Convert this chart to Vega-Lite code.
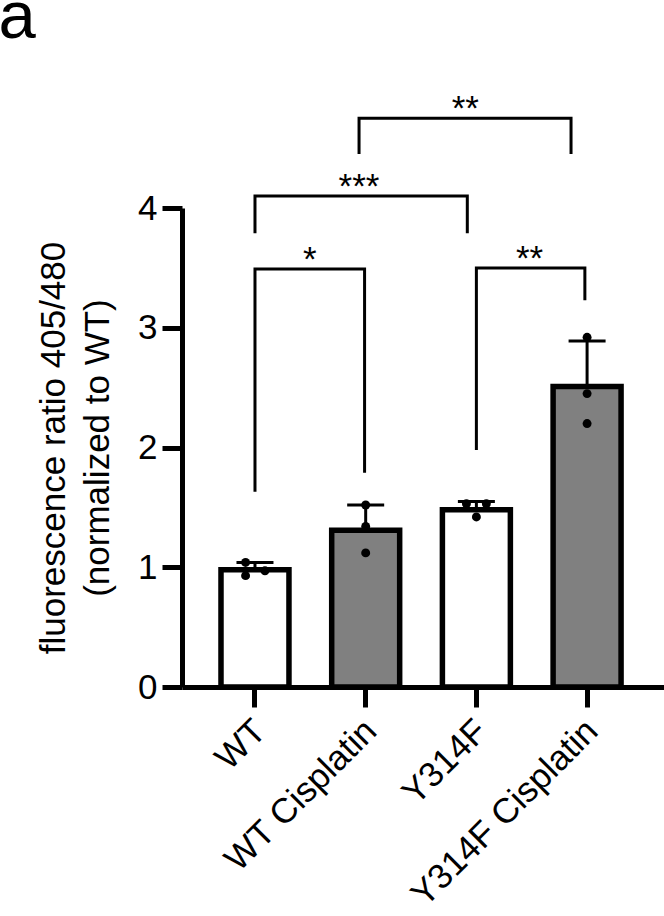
{
  "$schema": "https://vega.github.io/schema/vega-lite/v6.json",
  "autosize": {"type": "none"},
  "padding": {"left": 182, "top": 208, "right": 0, "bottom": 229},
  "width": 482,
  "height": 479,
  "background": "white",
  "title": {"text": "a", "fontSize": 67, "font": "Liberation Sans", "fontWeight": "normal", "anchor": "start", "frame": "bounds", "color": "black", "offset": 40, "dx": -38},
  "datasets": {
    "summary": [
      {"group": "WT", "treatment": "none", "mean": 0.98, "upper": 1.04},
      {"group": "WT Cisplatin", "treatment": "cisplatin", "mean": 1.31, "upper": 1.52},
      {"group": "Y314F", "treatment": "none", "mean": 1.48, "upper": 1.55},
      {"group": "Y314F Cisplatin", "treatment": "cisplatin", "mean": 2.51, "upper": 2.89}
    ],
    "points": [
      {"group": "WT", "pos": -0.085, "value": 1.04},
      {"group": "WT", "pos": -0.085, "value": 0.93},
      {"group": "WT", "pos": 0.09, "value": 0.97},
      {"group": "WT Cisplatin", "pos": 1.0, "value": 1.52},
      {"group": "WT Cisplatin", "pos": 1.0, "value": 1.34},
      {"group": "WT Cisplatin", "pos": 1.0, "value": 1.12},
      {"group": "Y314F", "pos": 1.91, "value": 1.53},
      {"group": "Y314F", "pos": 2.09, "value": 1.53},
      {"group": "Y314F", "pos": 2.0, "value": 1.42},
      {"group": "Y314F Cisplatin", "pos": 3.0, "value": 2.92},
      {"group": "Y314F Cisplatin", "pos": 3.0, "value": 2.45},
      {"group": "Y314F Cisplatin", "pos": 3.0, "value": 2.2}
    ],
    "brackets": [
      {"bracket": "WT vs WT Cisplatin", "seq": 1, "pos": 0.0, "y": 1.63},
      {"bracket": "WT vs WT Cisplatin", "seq": 2, "pos": 0.0, "y": 3.49},
      {"bracket": "WT vs WT Cisplatin", "seq": 3, "pos": 0.99, "y": 3.49},
      {"bracket": "WT vs WT Cisplatin", "seq": 4, "pos": 0.99, "y": 1.79},
      {"bracket": "WT vs Y314F", "seq": 1, "pos": 0.0, "y": 3.79},
      {"bracket": "WT vs Y314F", "seq": 2, "pos": 0.0, "y": 4.1},
      {"bracket": "WT vs Y314F", "seq": 3, "pos": 1.918, "y": 4.1},
      {"bracket": "WT vs Y314F", "seq": 4, "pos": 1.918, "y": 3.79},
      {"bracket": "WT Cisplatin vs Y314F Cisplatin", "seq": 1, "pos": 0.94, "y": 4.45},
      {"bracket": "WT Cisplatin vs Y314F Cisplatin", "seq": 2, "pos": 0.94, "y": 4.75},
      {"bracket": "WT Cisplatin vs Y314F Cisplatin", "seq": 3, "pos": 2.855, "y": 4.75},
      {"bracket": "WT Cisplatin vs Y314F Cisplatin", "seq": 4, "pos": 2.855, "y": 4.45},
      {"bracket": "Y314F vs Y314F Cisplatin", "seq": 1, "pos": 2.0, "y": 1.98},
      {"bracket": "Y314F vs Y314F Cisplatin", "seq": 2, "pos": 2.0, "y": 3.5},
      {"bracket": "Y314F vs Y314F Cisplatin", "seq": 3, "pos": 2.98, "y": 3.5},
      {"bracket": "Y314F vs Y314F Cisplatin", "seq": 4, "pos": 2.98, "y": 3.23}
    ],
    "stars": [
      {"label": "*", "pos": 0.495, "y": 3.49},
      {"label": "***", "pos": 0.94, "y": 4.1},
      {"label": "**", "pos": 1.9, "y": 4.75},
      {"label": "**", "pos": 2.48, "y": 3.5}
    ]
  },
  "layer": [
    {
      "data": {"name": "summary"},
      "encoding": {
        "x": {
          "field": "group", "type": "nominal", "sort": null,
          "scale": {"paddingInner": 0.386, "paddingOuter": 0.37, "align": 0.476},
          "axis": {"title": null, "labelAngle": -45, "labelOffset": -7}
        }
      },
      "layer": [
        {
          "mark": {"type": "bar", "stroke": "black", "strokeWidth": 5.5},
          "encoding": {
            "y": {"field": "mean", "type": "quantitative", "scale": {"domain": [0, 4], "nice": false}, "title": ["fluorescence ratio 405/480", "(normalized to WT)"], "axis": {"values": [0, 1, 2, 3, 4], "format": "d"}},
            "fill": {"field": "treatment", "type": "nominal", "scale": {"domain": ["none", "cisplatin"], "range": ["white", "#808080"]}, "legend": null}
          }
        },
        {
          "mark": {"type": "rule", "color": "black", "strokeWidth": 3},
          "encoding": {
            "y": {"field": "mean", "type": "quantitative", "scale": {"domain": [0, 4], "nice": false}, "title": ["fluorescence ratio 405/480", "(normalized to WT)"], "axis": {"values": [0, 1, 2, 3, 4], "format": "d"}},
            "y2": {"field": "upper"}
          }
        },
        {
          "mark": {"type": "tick", "orient": "horizontal", "color": "black", "size": 37, "thickness": 3, "opacity": 1},
          "encoding": {
            "y": {"field": "upper", "type": "quantitative", "scale": {"domain": [0, 4], "nice": false}, "title": ["fluorescence ratio 405/480", "(normalized to WT)"], "axis": {"values": [0, 1, 2, 3, 4], "format": "d"}}
          }
        }
      ]
    },
    {
      "layer": [
        {
          "data": {"name": "points"},
          "mark": {"type": "circle", "color": "black", "opacity": 1, "size": 80},
          "encoding": {
            "x": {"field": "pos", "type": "quantitative", "scale": {"domain": [-0.6593, 3.6948], "nice": false, "zero": false}, "axis": null},
            "y": {"field": "value", "type": "quantitative", "scale": {"domain": [0, 4], "nice": false}, "title": ["fluorescence ratio 405/480", "(normalized to WT)"], "axis": {"values": [0, 1, 2, 3, 4], "format": "d"}}
          }
        },
        {
          "data": {"name": "brackets"},
          "mark": {"type": "line", "color": "black", "strokeWidth": 3, "strokeJoin": "miter"},
          "encoding": {
            "x": {"field": "pos", "type": "quantitative", "scale": {"domain": [-0.6593, 3.6948], "nice": false, "zero": false}, "axis": null},
            "y": {"field": "y", "type": "quantitative", "scale": {"domain": [0, 4], "nice": false}, "title": ["fluorescence ratio 405/480", "(normalized to WT)"], "axis": {"values": [0, 1, 2, 3, 4], "format": "d"}},
            "detail": {"field": "bracket", "type": "nominal"},
            "order": {"field": "seq", "type": "quantitative"}
          }
        },
        {
          "data": {"name": "stars"},
          "mark": {"type": "text", "color": "black", "font": "Liberation Sans", "fontSize": 35, "align": "center", "baseline": "alphabetic", "dy": 2},
          "encoding": {
            "x": {"field": "pos", "type": "quantitative", "scale": {"domain": [-0.6593, 3.6948], "nice": false, "zero": false}, "axis": null},
            "y": {"field": "y", "type": "quantitative", "scale": {"domain": [0, 4], "nice": false}, "title": ["fluorescence ratio 405/480", "(normalized to WT)"], "axis": {"values": [0, 1, 2, 3, 4], "format": "d"}},
            "text": {"field": "label", "type": "nominal"}
          }
        }
      ]
    }
  ],
  "resolve": {"scale": {"x": "independent"}, "axis": {"x": "independent"}},
  "config": {
    "view": {"stroke": null},
    "font": "Liberation Sans",
    "axis": {
      "grid": false,
      "domainColor": "black",
      "domainWidth": 5,
      "tickColor": "black",
      "tickWidth": 5,
      "tickSize": 20,
      "labelColor": "black",
      "labelFont": "Liberation Sans",
      "labelFontSize": 35,
      "titleFont": "Liberation Sans",
      "titleFontSize": 35,
      "titleFontWeight": "normal",
      "titleColor": "black"
    },
    "axisY": {"labelPadding": 5, "titlePadding": 22, "titleLineHeight": 44},
    "axisX": {"labelPadding": 6, "labelLimit": 400}
  }
}
